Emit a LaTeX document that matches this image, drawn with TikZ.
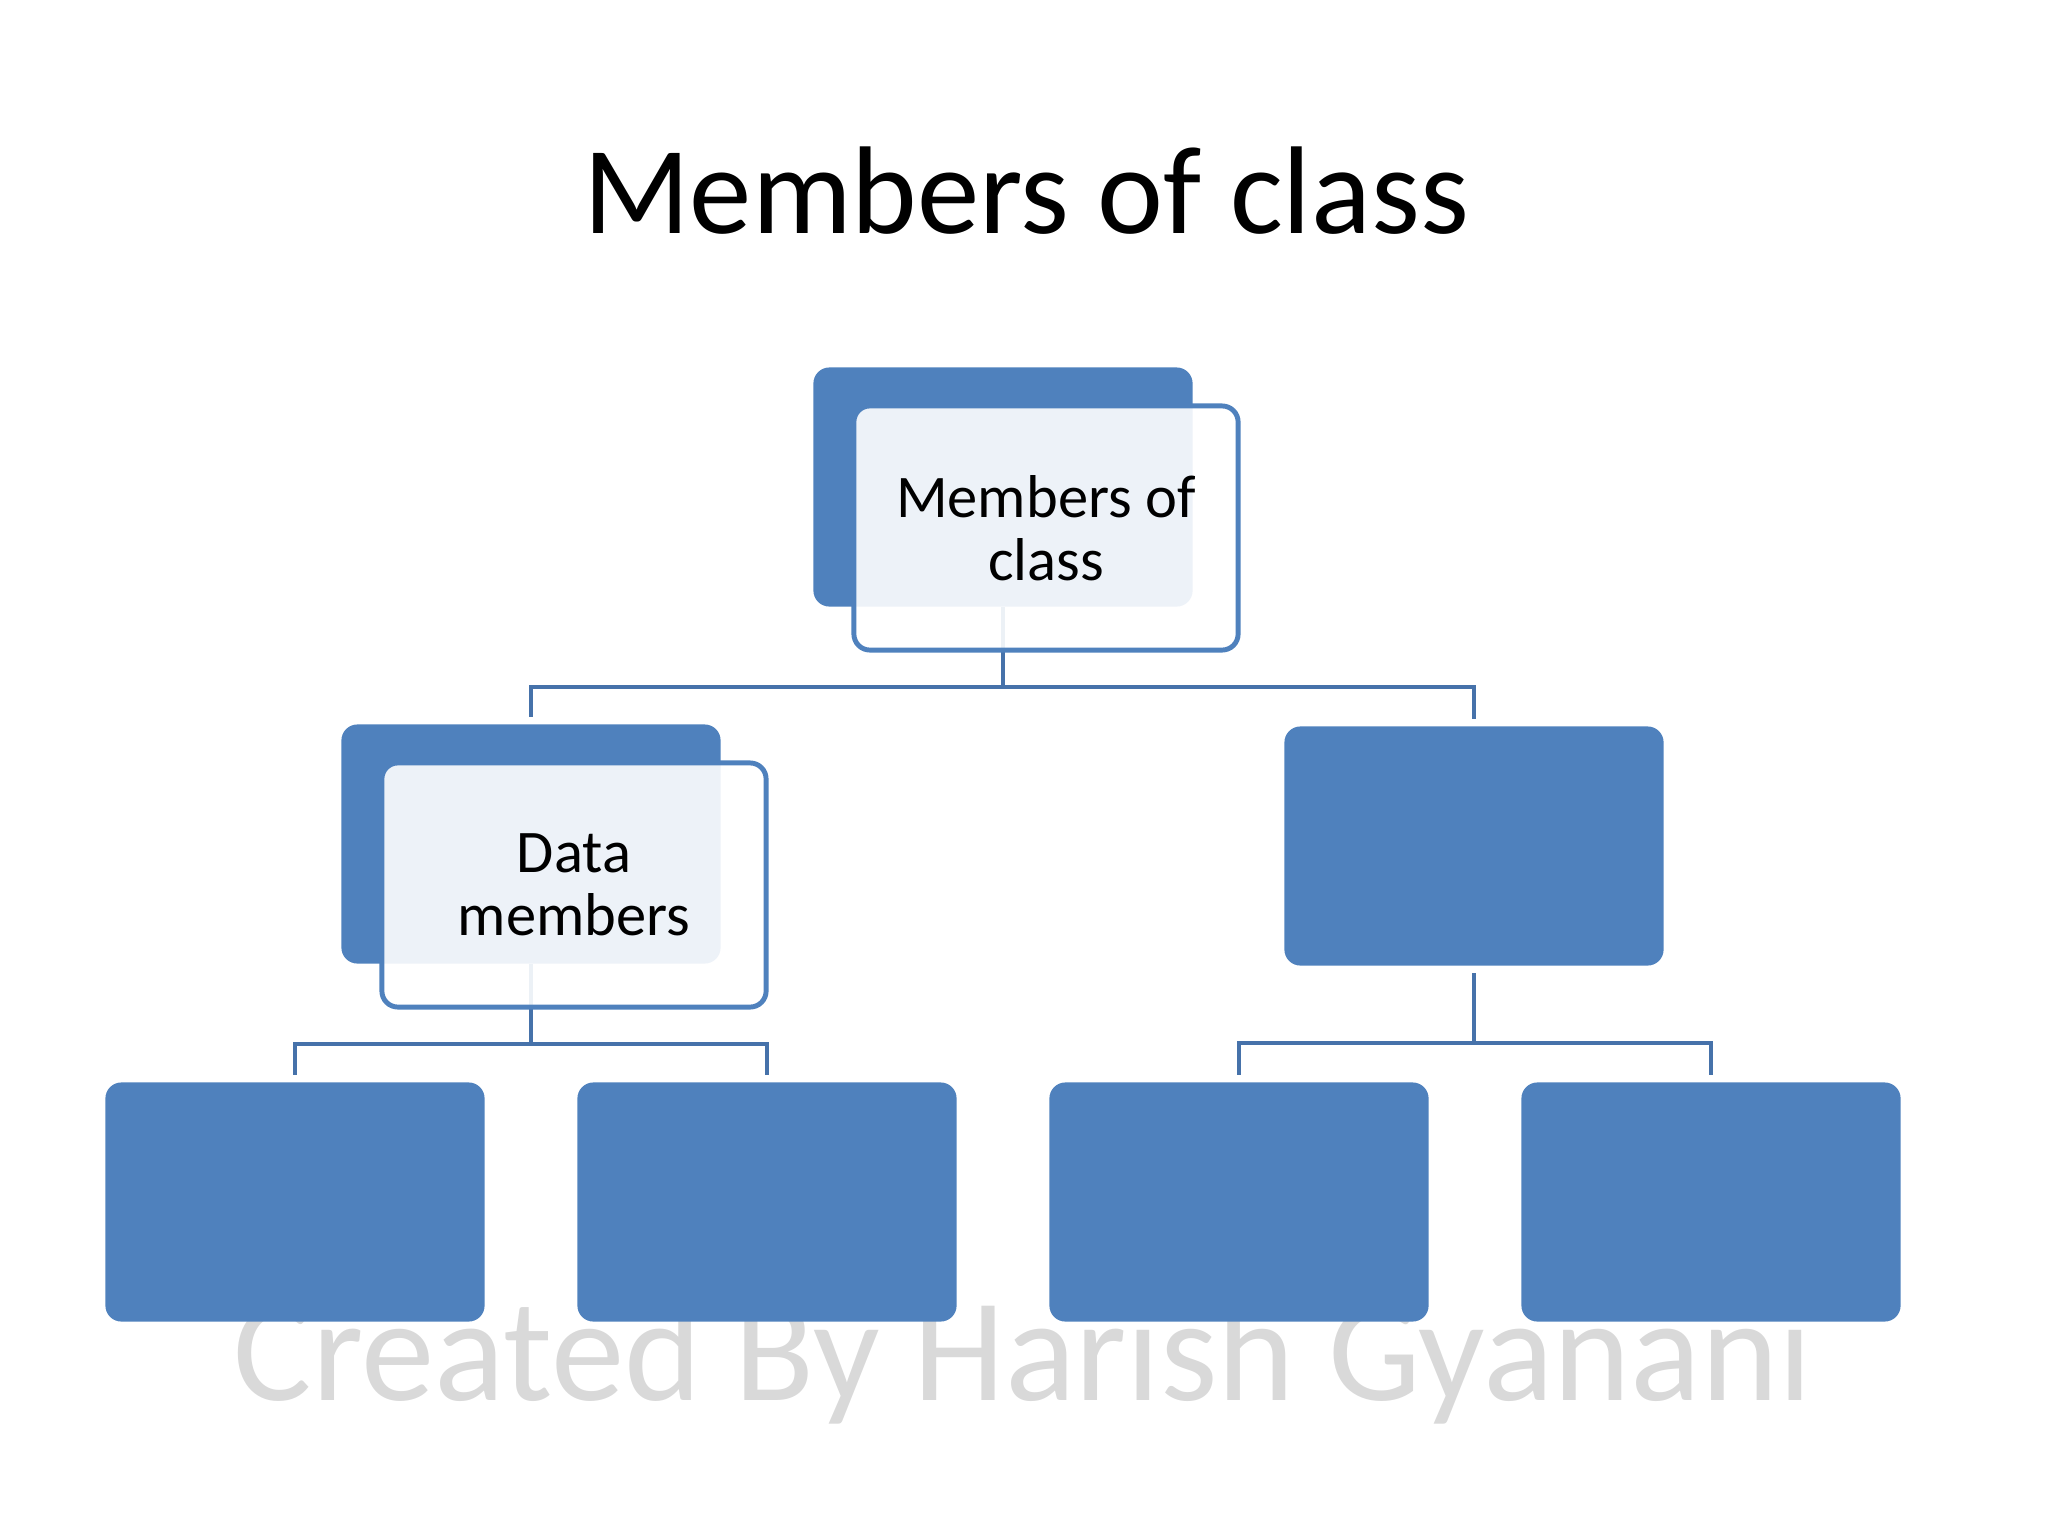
\documentclass[tikz,border=0pt]{standalone}
\usepackage{fontspec}
\setmainfont{Carlito}

\definecolor{boxblue}{HTML}{4F81BD}
\definecolor{lineblue}{HTML}{4672AA}
\definecolor{markgray}{HTML}{D9D9D9}

\tikzset{
  backbox/.style={fill=boxblue, rounded corners=0.16cm, inner sep=0,
    minimum width=3.79cm, minimum height=2.39cm},
  frontbox/.style={draw=boxblue, line width=1.4pt, fill=white, fill opacity=0.9,
    text opacity=1, rounded corners=0.16cm, inner sep=0, align=center,
    minimum width=3.84cm, minimum height=2.44cm,
    font=\fontsize{17.2}{17.9}\selectfont},
  link/.style={draw=lineblue, line width=1.15pt, shorten >=2pt}
}

\begin{document}
\begin{tikzpicture}[x=0.01cm, y=-0.01cm]
    \useasboundingbox (0, 0) rectangle (2048, 1536);
    \node [text=markgray, font=\fontsize{41.8}{42}\selectfont, anchor=base] (mark) at (1023, 1400) {Created By Harish Gyanani};
    \node [font=\fontsize{35.5}{40}\selectfont, anchor=base] (title) at (1026, 233) {Members of class};
    % back boxes
    \node [backbox] (root) at (1003, 487) {};
    \node [backbox] (data) at (531, 844) {};
    \node [backbox] (func) at (1474, 846) {};
    \node [backbox] (leafa) at (295, 1202) {};
    \node [backbox] (leafb) at (767, 1202) {};
    \node [backbox] (leafc) at (1239, 1202) {};
    \node [backbox] (leafd) at (1711, 1202) {};
    % connectors
    \draw [link] (root.south) -- ++(0, 80) -| (data.north);
    \draw [link] (root.south) -- ++(0, 80) -| (func.north);
    \draw [link] (data.south) -- ++(0, 80) -| (leafa.north);
    \draw [link] (data.south) -- ++(0, 80) -| (leafb.north);
    \draw [link, shorten <=2pt] (func.south) -- ++(0, 77) -| (leafc.north);
    \draw [link, shorten <=2pt] (func.south) -- ++(0, 77) -| (leafd.north);
    % front boxes
    \node [frontbox] (rootlabel) at (1046, 528) {Members of\\class};
    \node [frontbox] (datalabel) at (574, 885) {Data\\members};
\end{tikzpicture}
\end{document}
